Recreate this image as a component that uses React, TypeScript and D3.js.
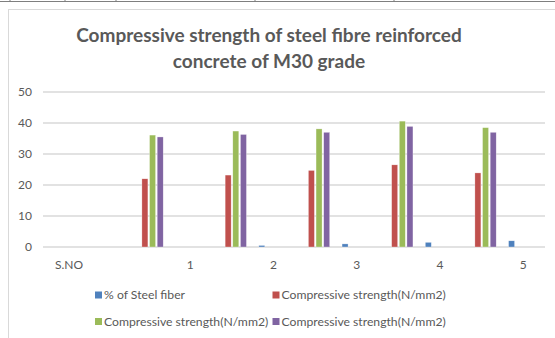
import React from "react";
import * as d3 from "d3";

const categories = ["S.NO", "1", "2", "3", "4", "5"];
const steelFiber: (number | null)[] = [null, 0, 0.5, 1.0, 1.5, 2.0];
const strengthA: (number | null)[] = [null, 22.0, 23.2, 24.7, 26.5, 23.9];
const strengthB: (number | null)[] = [null, 36.1, 37.4, 38.1, 40.6, 38.5];
const strengthC: (number | null)[] = [null, 35.5, 36.3, 37.0, 38.9, 37.0];
const yTicks = [0, 10, 20, 30, 40, 50];
const seriesNames = [
  "% of Steel fiber",
  "Compressive strength(N/mm2)",
  "Compressive strength(N/mm2)",
  "Compressive strength(N/mm2)",
];
const titleLines = ["Compressive strength of steel fibre reinforced", "concrete of M30 grade"];

const W = 555;
const H = 338;
const colors = ["#4F81BD", "#C0504D", "#9BBB59", "#8064A2"];
const textColor = "#595959";
const font = "Lato, 'Open Sans', sans-serif";

export default function App() {
  const x0 = d3.scaleBand<string>().domain(categories).range([43, 542.5]).padding(0);
  const y = d3.scaleLinear().domain([0, 50]).range([247, 92]);
  const slot = d3.scaleLinear().domain([0, 1]).range([0, 7.65]);
  const series = [steelFiber, strengthA, strengthB, strengthC];
  const slotIndex = [4.4, 0, 1, 2];
  const barW = 6;
  const base = x0.bandwidth() * 0.188;

  const legendItems = [
    { x: 95, y: 295 },
    { x: 272.5, y: 295 },
    { x: 95, y: 321.5 },
    { x: 272.5, y: 321.5 },
  ];

  return (
    <svg
      width={W}
      height={H}
      style={{ position: "absolute", left: 0, top: 0, background: "#fff" }}
      fontFamily={font}
    >
      {/* table lines above chart */}
      <line x1={0} x2={W} y1={1.5} y2={1.5} stroke="#7f7f7f" strokeWidth={1} />
      {[10, 65, 116, 255, 394].map((xx) => (
        <line key={xx} x1={xx} x2={xx} y1={0} y2={2} stroke="#7f7f7f" strokeWidth={1} />
      ))}
      {/* chart frame */}
      <line x1={8.5} x2={8.5} y1={9} y2={H} stroke="#d9d9d9" />
      <line x1={8} x2={W} y1={9.5} y2={9.5} stroke="#d9d9d9" />

      {/* title */}
      {titleLines.map((t, i) => (
        <text
          key={i}
          x={269}
          y={42 + i * 25.5}
          textAnchor="middle"
          fontSize={19}
          fontWeight={700}
          fill={textColor}
        >
          {t}
        </text>
      ))}

      {/* gridlines */}
      {yTicks.map((t) => (
        <line key={t} x1={43} x2={545} y1={y(t)} y2={y(t)} stroke="#d9d9d9" strokeWidth={1.3} />
      ))}
      {yTicks.map((t) => (
        <text key={"l" + t} x={32} y={y(t)} dy="0.35em" textAnchor="end" fontSize={12} fill={textColor}>
          {t}
        </text>
      ))}

      {/* bars */}
      {series.map((vals, si) =>
        vals.map((v, ci) => {
          if (v === null || v === 0) return null;
          const bx = (x0(categories[ci]) as number) + base + slot(slotIndex[si]);
          return (
            <rect
              key={si + "-" + ci}
              x={bx}
              y={y(v)}
              width={barW}
              height={y(0) - y(v)}
              fill={colors[si]}
              stroke="#ffffff"
              strokeOpacity={0.6}
              strokeWidth={0.5}
            />
          );
        })
      )}

      {/* category labels */}
      {categories.map((c, i) => {
        const bx = x0(c) as number;
        const cx = i === 0 ? 69 : bx + x0.bandwidth() * 0.77;
        return (
          <text key={c} x={cx} y={265} dy="0.35em" textAnchor="middle" fontSize={12} fill={textColor}>
            {c}
          </text>
        );
      })}

      {/* legend */}
      {legendItems.map((p, i) => (
        <g key={i}>
          <rect x={p.x} y={p.y - 3.5} width={7} height={7} fill={colors[i]} />
          <text x={p.x + 9} y={p.y} dy="0.35em" fontSize={12.2} fill={textColor}>
            {seriesNames[i]}
          </text>
        </g>
      ))}
    </svg>
  );
}
